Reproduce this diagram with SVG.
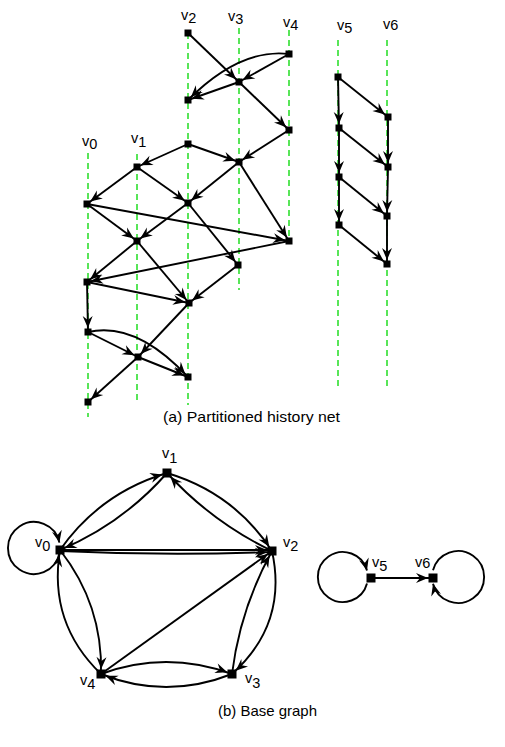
<svg xmlns="http://www.w3.org/2000/svg" width="505" height="747" viewBox="0 0 505 747">
<style>
.ea{fill:none;stroke:#000;stroke-width:1.9;marker-end:url(#ah)}
.eb{fill:none;stroke:#000;stroke-width:1.9;marker-end:url(#ah5)}
.el{fill:none;stroke:#000;stroke-width:1.9;marker-end:url(#ah0)}
.g{stroke:#22dd22;stroke-width:1.5;stroke-dasharray:6 4;fill:none}
.n{fill:#000}
text{font-family:"Liberation Sans",Arial,sans-serif;font-size:14.5px;fill:#000}
.cap{font-size:15px}
</style>
<defs>
<marker id="ah" markerUnits="userSpaceOnUse" viewBox="-13 -6 20 12" markerWidth="20" markerHeight="12" refX="4" refY="0" orient="auto">
<path d="M0,0 L-12,-5 L-8,0 L-12,5 Z" fill="#000"/>
</marker>
<marker id="ah5" markerUnits="userSpaceOnUse" viewBox="-13 -6 20 12" markerWidth="20" markerHeight="12" refX="5" refY="0" orient="auto">
<path d="M0,0 L-12,-5 L-8,0 L-12,5 Z" fill="#000"/>
</marker>
<marker id="ah0" markerUnits="userSpaceOnUse" viewBox="-13 -6 20 12" markerWidth="20" markerHeight="12" refX="0" refY="0" orient="auto">
<path d="M0,0 L-12,-5 L-8,0 L-12,5 Z" fill="#000"/>
</marker>
</defs>

<g id="columns">
<line class="g" x1="88" y1="153" x2="88" y2="417"/>
<line class="g" x1="137" y1="154" x2="137" y2="402"/>
<line class="g" x1="188" y1="33" x2="188" y2="405"/>
<line class="g" x1="239" y1="28" x2="239" y2="290"/>
<line class="g" x1="289" y1="30" x2="289" y2="241"/>
<line class="g" x1="338" y1="40" x2="338" y2="388"/>
<line class="g" x1="387" y1="40" x2="387" y2="388"/>
</g>

<g id="column-labels">
<text x="82" y="146">v<tspan dy="3">0</tspan></text>
<text x="131" y="143">v<tspan dy="4">1</tspan></text>
<text x="181" y="20">v<tspan dy="3">2</tspan></text>
<text x="228" y="21">v<tspan dy="3">3</tspan></text>
<text x="283" y="27">v<tspan dy="3">4</tspan></text>
<text x="337" y="30">v<tspan dy="3">5</tspan></text>
<text x="383" y="29">v<tspan dy="1">6</tspan></text>
</g>

<g id="connectors">
<path class="ea" d="M188,33 L239,82"/>
<path class="ea" d="M289,54 L239,82"/>
<path class="ea" d="M289,54 Q240,48 188,100"/>
<path class="ea" d="M239,82 L188,100"/>
<path class="ea" d="M239,82 L289,130"/>
<path class="ea" d="M289,130 L239,162"/>
<path class="ea" d="M188,144 L239,162"/>
<path class="ea" d="M188,144 L137,167"/>
<path class="ea" d="M137,167 L87,204"/>
<path class="ea" d="M137,167 L188,203"/>
<path class="ea" d="M239,162 L188,203"/>
<path class="ea" d="M239,162 L289,241"/>
<path class="ea" d="M87,204 L289,241"/>
<path class="ea" d="M87,204 L137,241"/>
<path class="ea" d="M188,203 L137,241"/>
<path class="ea" d="M188,203 L238,265"/>
<path class="ea" d="M137,241 L87,282"/>
<path class="ea" d="M289,241 L87,282"/>
<path class="ea" d="M137,241 L189,303"/>
<path class="ea" d="M87,282 L189,303"/>
<path class="ea" d="M238,265 L189,303"/>
<path class="ea" d="M87,282 L88,332"/>
<path class="ea" d="M189,303 L138,357"/>
<path class="ea" d="M138,357 L88,402"/>
<path class="ea" d="M88,332 L138,357"/>
<path class="ea" d="M88,332 Q136,321 188,377"/>
<path class="ea" d="M138,357 L188,377"/>
<path class="ea" d="M338,77 L388,117"/>
<path class="ea" d="M338,77 L339,128"/>
<path class="ea" d="M339,128 L388,167"/>
<path class="ea" d="M388,117 L388,167"/>
<path class="ea" d="M339,128 L339,177"/>
<path class="ea" d="M339,177 L387,216"/>
<path class="ea" d="M388,167 L387,216"/>
<path class="ea" d="M339,177 L339,225"/>
<path class="ea" d="M339,225 L387,264"/>
<path class="ea" d="M387,216 L387,264"/>
<path class="el" d="M59.4,553.4 A26,26 0 1,1 59.4,542.6"/>
<path class="eb" d="M60,550 Q100,493 167,473"/>
<path class="eb" d="M167,473 Q122,524 60,550"/>
<path class="eb" d="M167,473 Q234,493 272,551"/>
<path class="eb" d="M272,551 Q212,522 167,473"/>
<path class="eb" d="M60,550 L272,550"/>
<path class="eb" d="M60,551 Q166,556 272,552"/>
<path class="eb" d="M101,674 L272,551"/>
<path class="eb" d="M272,551 Q288,624 232,674"/>
<path class="eb" d="M232,674 Q240,609 272,551"/>
<path class="eb" d="M101,674 Q166,650 232,674"/>
<path class="eb" d="M232,674 Q166,700 101,674"/>
<path class="eb" d="M101,674 Q48,623 60,550"/>
<path class="eb" d="M60,550 Q103,605 101,674"/>
<path class="el" d="M367,583.5 A25,25 0 1,1 367,570.5"/>
<path class="eb" d="M371,578 L433,578"/>
<path class="el" d="M433,570.3 A26,26 0 1,1 433,583.7"/>
</g>

<g id="history-nodes">
<g id="a1"><rect class="n" x="184.5" y="29.5" width="7" height="7"/></g>
<g id="a2"><rect class="n" x="285.5" y="50.5" width="7" height="7"/></g>
<g id="a3"><rect class="n" x="235.5" y="78.5" width="7" height="7"/></g>
<g id="a4"><rect class="n" x="184.5" y="96.5" width="7" height="7"/></g>
<g id="a5"><rect class="n" x="285.5" y="126.5" width="7" height="7"/></g>
<g id="a6"><rect class="n" x="184.5" y="140.5" width="7" height="7"/></g>
<g id="a7"><rect class="n" x="235.5" y="158.5" width="7" height="7"/></g>
<g id="a8"><rect class="n" x="133.5" y="163.5" width="7" height="7"/></g>
<g id="a9"><rect class="n" x="83.5" y="200.5" width="7" height="7"/></g>
<g id="a10"><rect class="n" x="184.5" y="199.5" width="7" height="7"/></g>
<g id="a11"><rect class="n" x="133.5" y="237.5" width="7" height="7"/></g>
<g id="a12"><rect class="n" x="285.5" y="237.5" width="7" height="7"/></g>
<g id="a13"><rect class="n" x="234.5" y="261.5" width="7" height="7"/></g>
<g id="a14"><rect class="n" x="83.5" y="278.5" width="7" height="7"/></g>
<g id="a15"><rect class="n" x="185.5" y="299.5" width="7" height="7"/></g>
<g id="a16"><rect class="n" x="84.5" y="328.5" width="7" height="7"/></g>
<g id="a17"><rect class="n" x="134.5" y="353.5" width="7" height="7"/></g>
<g id="a18"><rect class="n" x="184.5" y="373.5" width="7" height="7"/></g>
<g id="a19"><rect class="n" x="84.5" y="398.5" width="7" height="7"/></g>
<g id="b1"><rect class="n" x="334.5" y="73.5" width="7" height="7"/></g>
<g id="b2"><rect class="n" x="384.5" y="113.5" width="7" height="7"/></g>
<g id="b3"><rect class="n" x="335.5" y="124.5" width="7" height="7"/></g>
<g id="b4"><rect class="n" x="384.5" y="163.5" width="7" height="7"/></g>
<g id="b5"><rect class="n" x="335.5" y="173.5" width="7" height="7"/></g>
<g id="b6"><rect class="n" x="383.5" y="212.5" width="7" height="7"/></g>
<g id="b7"><rect class="n" x="335.5" y="221.5" width="7" height="7"/></g>
<g id="b8"><rect class="n" x="383.5" y="260.5" width="7" height="7"/></g>
</g>

<g id="base-nodes">
<g id="bv0"><rect class="n" x="55.5" y="545.5" width="9" height="9"/><text x="35" y="547">v<tspan dy="4">0</tspan></text></g>
<g id="bv1"><rect class="n" x="162.5" y="468.5" width="9" height="9"/><text x="162" y="458">v<tspan dy="5">1</tspan></text></g>
<g id="bv2"><rect class="n" x="267.5" y="546.5" width="9" height="9"/><text x="283" y="547">v<tspan dy="4">2</tspan></text></g>
<g id="bv3"><rect class="n" x="227.5" y="669.5" width="9" height="9"/><text x="245" y="683">v<tspan dy="5">3</tspan></text></g>
<g id="bv4"><rect class="n" x="96.5" y="669.5" width="9" height="9"/><text x="80" y="685">v<tspan dy="4">4</tspan></text></g>
<g id="bv5"><rect class="n" x="366.5" y="573.5" width="9" height="9"/><text x="372" y="567">v<tspan dy="4">5</tspan></text></g>
<g id="bv6"><rect class="n" x="428.5" y="573.5" width="9" height="9"/><text x="415" y="567">v<tspan dy="1">6</tspan></text></g>
</g>

<g id="captions">
<text class="cap" x="163" y="422" textLength="177" lengthAdjust="spacingAndGlyphs">(a) Partitioned history net</text>
<text class="cap" x="218" y="716" textLength="99" lengthAdjust="spacingAndGlyphs">(b) Base graph</text>
</g>
</svg>
